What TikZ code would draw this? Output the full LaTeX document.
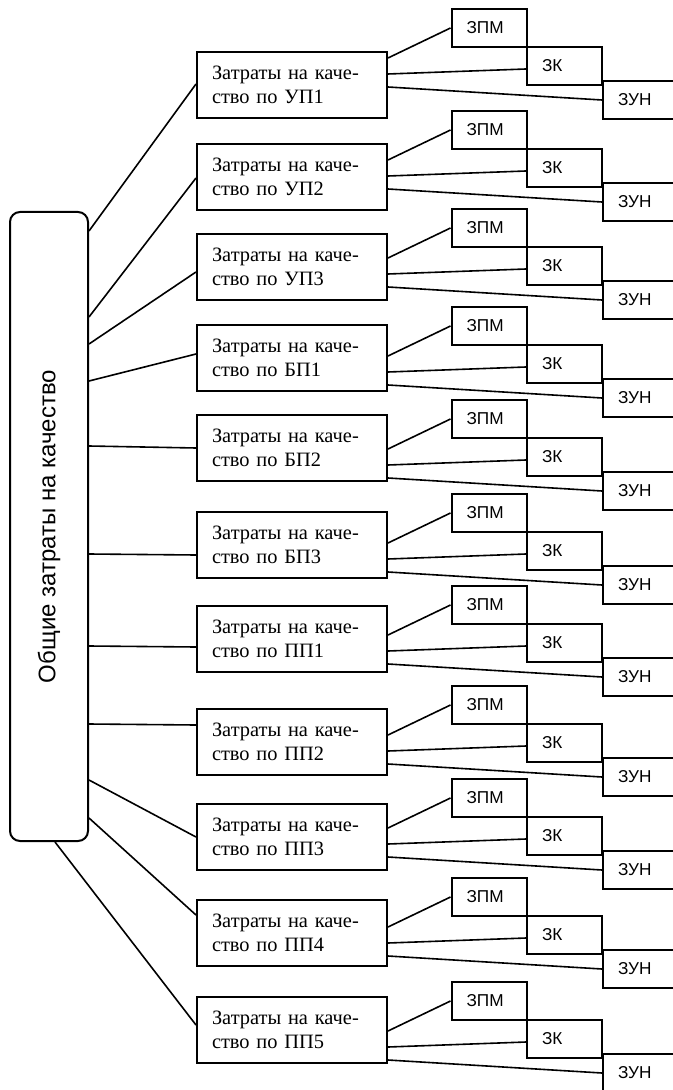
\documentclass[tikz,border=0pt]{standalone}
\usepackage{fontspec}
\setmainfont{Liberation Serif}
\setsansfont{Liberation Sans}
\usetikzlibrary{positioning, calc}

\begin{document}
\begin{tikzpicture}[
    x=0.5pt, y=-0.5pt,
    on grid,
    grp/.style={rectangle, draw, line width=1pt, minimum width=95pt, minimum height=33pt, text width=80pt, inner xsep=7.5pt, align=left, font=\fontsize{10.2}{12}\selectfont},
    sub/.style={rectangle, draw, line width=1pt, minimum width=37.5pt, minimum height=19pt, text width=22.5pt, inner xsep=7.5pt, align=left, font=\sffamily\fontsize{8.6}{10}\selectfont},
    total/.style={rectangle, draw, line width=1pt, rounded corners=5pt, minimum width=39pt, minimum height=314.5pt, inner sep=0pt, font=\sffamily\fontsize{12}{14}\selectfont},
    link/.style={line width=0.8pt}
]
    \useasboundingbox (0,0) rectangle (673,1090);

    \node[total] (main) at (49,526.5) {\rotatebox{90}{\raisebox{1.75pt}{Общие затраты на качество}}};

    % groups with their three cost items
    \foreach \i/\lab/\gy/\ty in {1/УП1/52/9, 2/УП2/144/111, 3/УП3/234/209, 4/БП1/325/307,
        5/БП2/415/400, 6/БП3/512/494, 7/ПП1/606/586, 8/ПП2/709/686,
        9/ПП3/804/779, 10/ПП4/900/878, 11/ПП5/997/982} {
        \node[grp] (g\i) at (292,\gy+33) {Затраты на каче-\\ство по \lab};
        \node[sub] (zpm\i) at (489,\ty+19) {ЗПМ};
        \node[sub, below right=19pt and 37.75pt of zpm\i] (zk\i)  {ЗК};
        \node[sub, below right=17pt and 38pt of zk\i]     (zun\i) {ЗУН};

        \draw[link] ($(g\i.east |- zpm\i.south)+(0,-5pt)$)    -- (zpm\i.west);
        \draw[link] ($(g\i.east |- zpm\i.south)+(0,-13pt)$)   -- ([yshift=-1.5pt]zk\i.west);
        \draw[link] ($(g\i.east |- zpm\i.south)+(0,-19.5pt)$) -- (zun\i.west);
    }

    % total costs -> groups
    \foreach \i/\ms/\ws in {1/10/0.5, 2/53/-0.5, 3/66.5/-2.5, 4/85/2, 5/117.5/0,
        6/171.5/-5, 7/217.5/-4, 8/256.5/8.5, 9/284.5/0, 10/303.5/9} {
        \draw[link] ([yshift=-\ms*1pt]main.north east) -- ([yshift=\ws*1pt]g\i.west);
    }
    \draw[link] ([xshift=3pt]main.south) -- ([yshift=2.5pt]g11.west);
\end{tikzpicture}
\end{document}
